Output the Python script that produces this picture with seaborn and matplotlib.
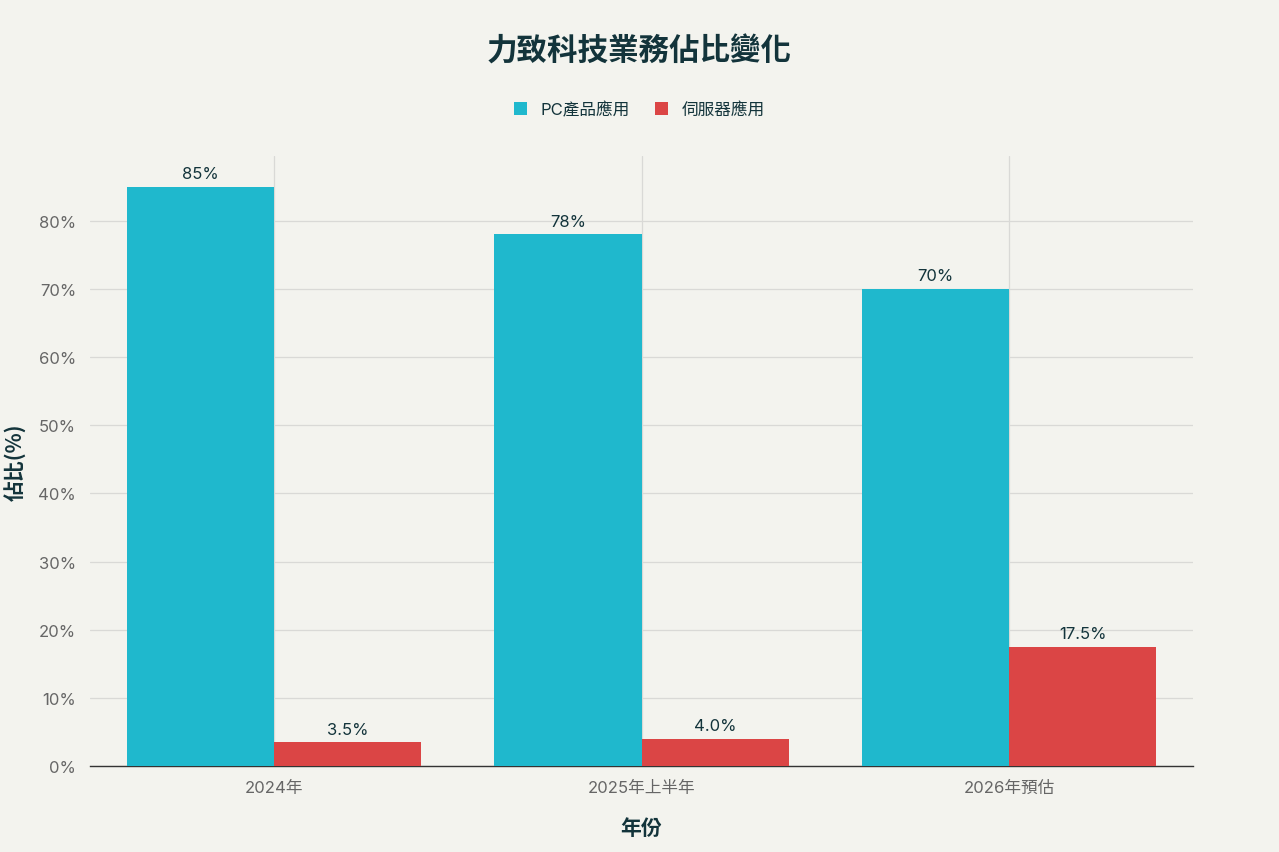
import matplotlib
matplotlib.use("Agg")
import matplotlib.pyplot as plt
import seaborn as sns
import pandas as pd
from matplotlib.ticker import FuncFormatter

# 資料
years = ["2024年", "2025年上半年", "2026年預估"]
pc_share = [85, 78, 70]
server_share = [3.5, 4.0, 17.5]
pc_labels = ["85%", "78%", "70%"]
server_labels = ["3.5%", "4.0%", "17.5%"]
series = ["PC產品應用", "伺服器應用"]
colors = ["#1FB8CD", "#DB4545"]

df = pd.DataFrame({
    "年份": years * 2,
    "佔比": pc_share + server_share,
    "類別": [series[0]] * 3 + [series[1]] * 3,
})

bg = "#F3F3EE"
dark = "#13343B"
grey = "#666666"

sns.set_theme(style="white")
plt.rcParams["font.family"] = ["Inter", "Noto Sans CJK TC", "DejaVu Sans"]
cjk = ["Noto Sans CJK TC", "DejaVu Sans"]

fig = plt.figure(figsize=(12.79, 8.53), dpi=100, facecolor=bg)
ax = fig.add_axes([0.0704, 0.1008, 0.8624, 0.7152])
ax.set_facecolor(bg)

sns.barplot(data=df, x="年份", y="佔比", hue="類別", palette=colors,
            hue_order=series, order=years, width=0.8, saturation=1,
            linewidth=0, ax=ax, zorder=3)

# 數值標籤
for cont, labs in zip(ax.containers, [pc_labels, server_labels]):
    ax.bar_label(cont, labels=labs, padding=4, fontsize=12, color=dark)

ax.set_xlim(-0.5, 2.5)
ax.set_ylim(0, 89.5)
ax.set_yticks(range(0, 90, 10))
ax.yaxis.set_major_formatter(FuncFormatter(lambda v, p: f"{v:.0f}%"))

ax.grid(axis="both", color="#D9D9D6", linewidth=0.9, zorder=0)
ax.set_axisbelow(True)
for s in ["top", "right", "left"]:
    ax.spines[s].set_visible(False)
ax.spines["bottom"].set_color("#333333")
ax.spines["bottom"].set_linewidth(1.0)
ax.tick_params(axis="both", length=0, labelsize=12, labelcolor=grey, pad=10)

ax.set_xlabel("年份", fontsize=15, fontweight="bold", color=dark, labelpad=16,
              family=cjk)
ax.set_ylabel("佔比(%)", fontsize=15, fontweight="bold", color=dark, labelpad=8,
              family=cjk)

# 圖例
handles, labels = ax.get_legend_handles_labels()
ax.get_legend().remove()
fig.legend(handles, labels, loc="center", bbox_to_anchor=(0.5, 0.871), ncol=2,
           frameon=False, fontsize=12, handlelength=0.8, handleheight=0.8,
           columnspacing=1.5, handletextpad=0.8, labelcolor=dark)

fig.suptitle("力致科技業務佔比變化", x=0.5, y=0.939, va="center",
             fontsize=22, fontweight="bold", color=dark, family=cjk)

fig.savefig("out.png", dpi=100, facecolor=bg)
